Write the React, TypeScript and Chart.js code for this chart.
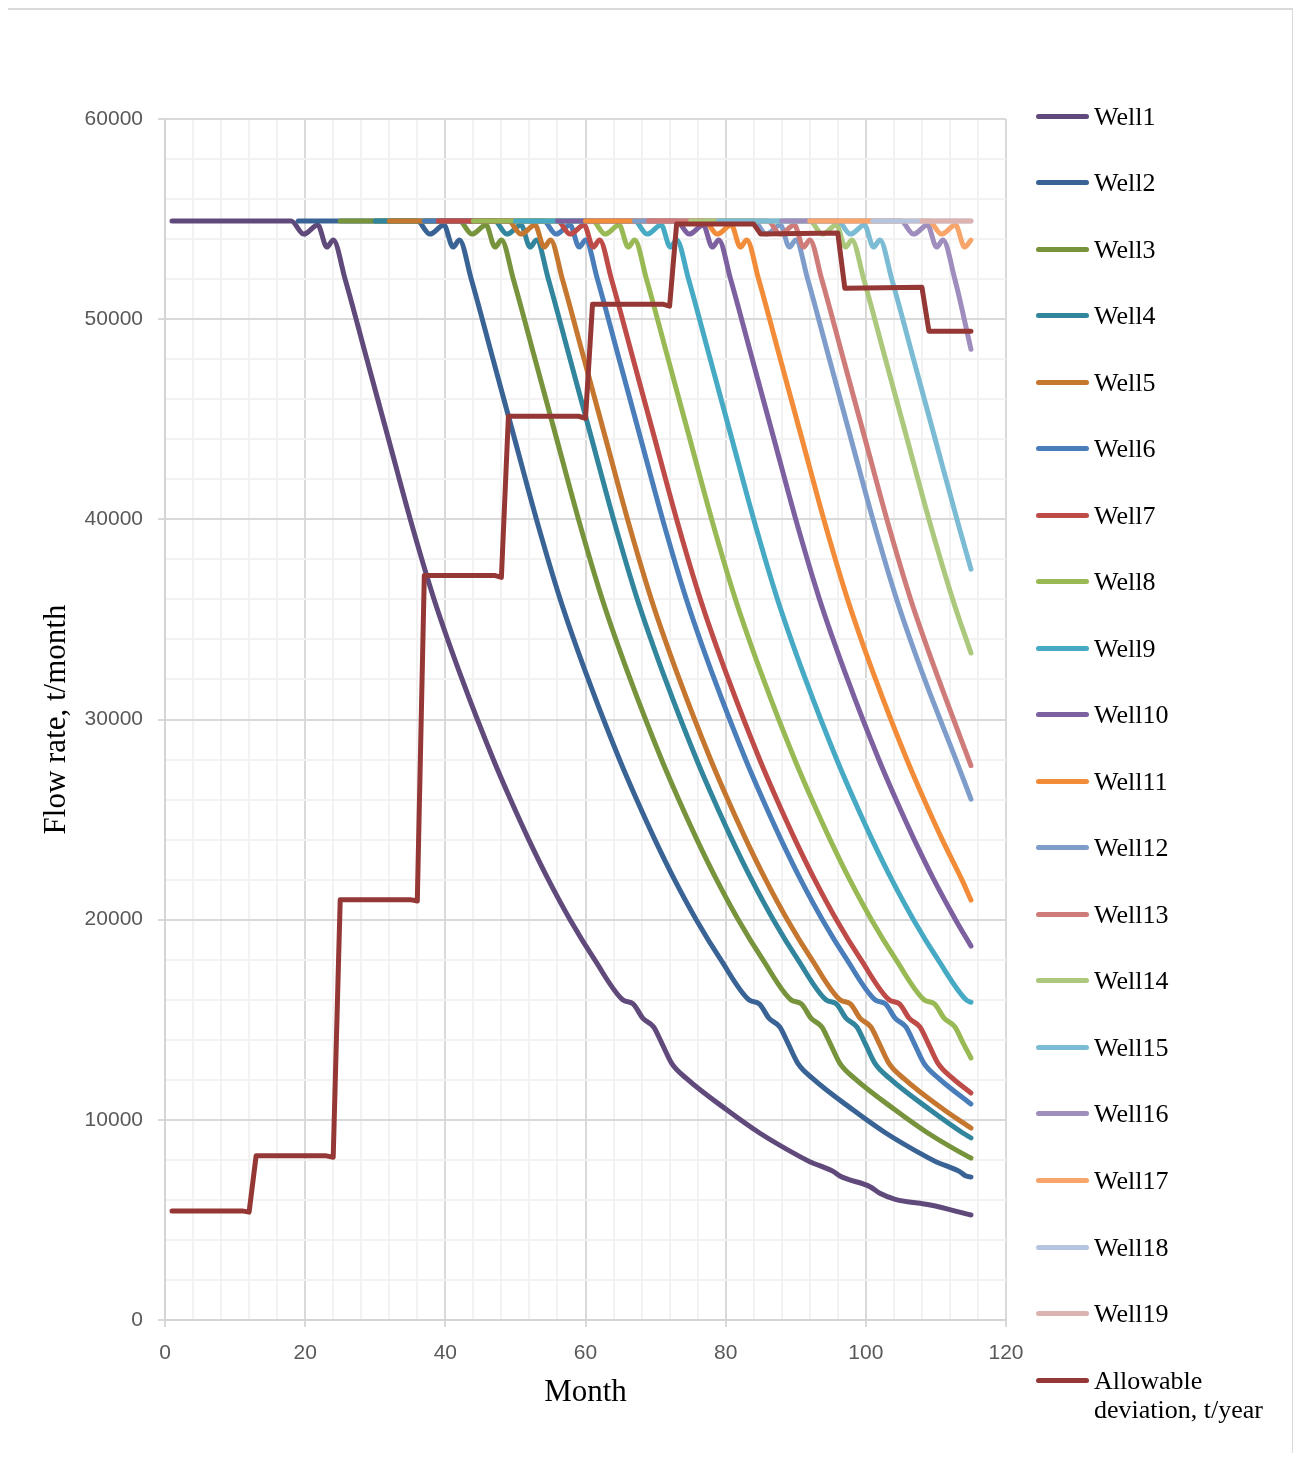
import { useEffect, useRef } from "react";
import { Chart, registerables } from "chart.js";

Chart.register(...registerables);

type Point = [number, number];

// Monthly production of each well, [month, t/month]
const well1: Point[] = [
  [1, 54900], [18, 54900], [19.8, 54250], [21.8, 54700], [23.1, 53600], [24, 53950],
  [25.7, 52000], [28.8, 48000], [31.9, 44000], [35, 40000], [38.4, 36000], [42.4, 32000],
  [46.85, 28000], [49.3, 26000], [51.9, 24000], [54.7, 22000], [57.8, 20000], [61.3, 18000],
  [65.3, 16000], [66.8, 15790], [68.2, 15070], [69.7, 14650], [70.9, 13820], [72.3, 12820],
  [74.4, 12070], [80.2, 10490], [84.9, 9330], [90.6, 8160], [92, 7910],
  [95.4, 7410], [96.3, 7190], [100.6, 6660], [102, 6330], [104.2, 6030], [109.2, 5745], [115, 5245],
];
const well2: Point[] = [
  [19, 54900], [36, 54900], [37.8, 54250], [39.8, 54700], [41.1, 53600], [42, 53950],
  [43.7, 52000], [46.8, 48000], [49.9, 44000], [53, 40000], [56.4, 36000], [60.4, 32000],
  [64.85, 28000], [67.3, 26000], [69.9, 24000], [72.7, 22000], [75.8, 20000], [79.3, 18000],
  [83.3, 16000], [84.8, 15790], [86.2, 15070], [87.7, 14650], [88.9, 13820], [90.3, 12820],
  [92.4, 12070], [98.2, 10490], [102.9, 9330], [108.6, 8160], [110, 7910],
  [113.4, 7410], [114.3, 7190], [115, 7140],
];
const well3: Point[] = [
  [25, 54900], [42, 54900], [43.8, 54250], [45.8, 54700], [47.1, 53600], [48, 53950],
  [49.7, 52000], [52.8, 48000], [55.9, 44000], [59, 40000], [62.4, 36000], [66.4, 32000],
  [70.85, 28000], [73.3, 26000], [75.9, 24000], [78.7, 22000], [81.8, 20000], [85.3, 18000],
  [89.3, 16000], [90.8, 15790], [92.2, 15070], [93.7, 14650], [94.9, 13820], [96.3, 12820],
  [98.4, 12070], [104.2, 10490], [108.9, 9330], [114.6, 8160], [115, 8090],
];
const well4: Point[] = [
  [30, 54900], [47, 54900], [48.8, 54250], [50.8, 54700], [52.1, 53600], [53, 53950],
  [54.7, 52000], [57.8, 48000], [60.9, 44000], [64, 40000], [67.4, 36000], [71.4, 32000],
  [75.85, 28000], [78.3, 26000], [80.9, 24000], [83.7, 22000], [86.8, 20000], [90.3, 18000],
  [94.3, 16000], [95.8, 15790], [97.2, 15070], [98.7, 14650], [99.9, 13820], [101.3, 12820],
  [103.4, 12070], [109.2, 10490], [113.9, 9330], [115, 9100],
];
const well5: Point[] = [
  [32, 54900], [49, 54900], [50.8, 54250], [52.8, 54700], [54.1, 53600], [55, 53950],
  [56.7, 52000], [59.8, 48000], [62.9, 44000], [66, 40000], [69.4, 36000], [73.4, 32000],
  [77.85, 28000], [80.3, 26000], [82.9, 24000], [85.7, 22000], [88.8, 20000], [92.3, 18000],
  [96.3, 16000], [97.8, 15790], [99.2, 15070], [100.7, 14650], [101.9, 13820], [103.3, 12820],
  [105.4, 12070], [111.2, 10490], [115, 9590],
];
const well6: Point[] = [
  [37, 54900], [54, 54900], [55.8, 54250], [57.8, 54700], [59.1, 53600], [60, 53950],
  [61.7, 52000], [64.8, 48000], [67.9, 44000], [71, 40000], [74.4, 36000], [78.4, 32000],
  [82.85, 28000], [85.3, 26000], [87.9, 24000], [90.7, 22000], [93.8, 20000], [97.3, 18000],
  [101.3, 16000], [102.8, 15790], [104.2, 15070], [105.7, 14650], [106.9, 13820], [108.3, 12820],
  [110.4, 12070], [115, 10790],
];
const well7: Point[] = [
  [39, 54900], [56, 54900], [57.8, 54250], [59.8, 54700], [61.1, 53600], [62, 53950],
  [63.7, 52000], [66.8, 48000], [69.9, 44000], [73, 40000], [76.4, 36000], [80.4, 32000],
  [84.85, 28000], [87.3, 26000], [89.9, 24000], [92.7, 22000], [95.8, 20000], [99.3, 18000],
  [103.3, 16000], [104.8, 15790], [106.2, 15070], [107.7, 14650], [108.9, 13820], [110.3, 12820],
  [112.4, 12070], [115, 11340],
];
const well8: Point[] = [
  [44, 54900], [61, 54900], [62.8, 54250], [64.8, 54700], [66.1, 53600], [67, 53950],
  [68.7, 52000], [71.8, 48000], [74.9, 44000], [78, 40000], [81.4, 36000], [85.4, 32000],
  [89.85, 28000], [92.3, 26000], [94.9, 24000], [97.7, 22000], [100.8, 20000], [104.3, 18000],
  [108.3, 16000], [109.8, 15790], [111.2, 15070], [112.7, 14650], [113.9, 13820], [115, 13090],
];
const well9: Point[] = [
  [50, 54900], [67, 54900], [68.8, 54250], [70.8, 54700], [72.1, 53600], [73, 53950],
  [74.7, 52000], [77.8, 48000], [80.9, 44000], [84, 40000], [87.4, 36000], [91.4, 32000],
  [95.85, 28000], [98.3, 26000], [100.9, 24000], [103.7, 22000], [106.8, 20000], [110.3, 18000],
  [114.3, 16000], [115, 15880],
];
const well10: Point[] = [
  [56, 54900], [73, 54900], [74.8, 54250], [76.8, 54700], [78.1, 53600], [79, 53950],
  [80.7, 52000], [83.8, 48000], [86.9, 44000], [90, 40000], [93.4, 36000], [97.4, 32000],
  [101.85, 28000], [104.3, 26000], [106.9, 24000], [109.7, 22000], [112.8, 20000], [115, 18680],
];
const well11: Point[] = [
  [60, 54900], [77, 54900], [78.8, 54250], [80.8, 54700], [82.1, 53600], [83, 53950],
  [84.7, 52000], [87.8, 48000], [90.9, 44000], [94, 40000], [97.4, 36000], [101.4, 32000],
  [105.85, 28000], [108.3, 26000], [110.9, 24000], [113.7, 22000], [115, 20980],
];
const well12: Point[] = [
  [67, 54900], [84, 54900], [85.8, 54250], [87.8, 54700], [89.1, 53600], [90, 53950],
  [91.7, 52000], [94.8, 48000], [97.9, 44000], [101, 40000], [104.4, 36000], [108.4, 32000],
  [112.85, 28000], [115, 26020],
];
const well13: Point[] = [
  [69, 54900], [86, 54900], [87.8, 54250], [89.8, 54700], [91.1, 53600], [92, 53950],
  [93.7, 52000], [96.8, 48000], [99.9, 44000], [103, 40000], [106.4, 36000], [110.4, 32000],
  [115, 27700],
];
const well14: Point[] = [
  [75, 54900], [92, 54900], [93.8, 54250], [95.8, 54700], [97.1, 53600], [98, 53950],
  [99.7, 52000], [102.8, 48000], [105.9, 44000], [109, 40000], [112.4, 36000], [115, 33320],
];
const well15: Point[] = [
  [79, 54900], [96, 54900], [97.8, 54250], [99.8, 54700], [101.1, 53600], [102, 53950],
  [103.7, 52000], [106.8, 48000], [109.9, 44000], [113, 40000], [115, 37510],
];
const well16: Point[] = [
  [88, 54900], [105, 54900], [106.8, 54250], [108.8, 54700], [110.1, 53600], [111, 53950],
  [112.7, 52000], [115, 48500],
];
const well17: Point[] = [
  [92, 54900], [109, 54900], [110.8, 54250], [112.8, 54700], [114.1, 53600], [115, 53950],
];
const well18: Point[] = [[101, 54900], [115, 54900]];
const well19: Point[] = [[108, 54900], [115, 54900]];

// Allowable deviation, one level per production year
const allowableDeviation: Point[] = [
  [1, 5450], [11, 5450], [12, 5390], [13, 8200], [23, 8200], [24, 8130],
  [25, 21000], [35, 21000], [36, 20930], [37, 37200], [47, 37200], [48, 37100],
  [49, 45150], [59, 45150], [60, 45050], [61, 50750], [71, 50750], [72, 50650],
  [73, 54750], [84, 54750], [85, 54250], [96, 54300], [97, 51550], [108, 51600],
  [109, 49400], [115, 49400],
];

const wellSeries: Point[][] = [
  well1, well2, well3, well4, well5, well6, well7, well8, well9, well10,
  well11, well12, well13, well14, well15, well16, well17, well18, well19,
];
const wellNames = [
  "Well1", "Well2", "Well3", "Well4", "Well5", "Well6", "Well7", "Well8", "Well9", "Well10",
  "Well11", "Well12", "Well13", "Well14", "Well15", "Well16", "Well17", "Well18", "Well19",
];
const wellColors = [
  "#604A7B", "#3A6395", "#77933C", "#31859C", "#C5762F", "#4A7EBB", "#BE4B48", "#98B954",
  "#46AAC5", "#7D60A0", "#F28C38", "#7F9DCB", "#CE7B79", "#ABC87C", "#7BBCD4", "#9E8DBD",
  "#F7A56B", "#B5C5E0", "#DDB3B2",
];
const allowableName = ["Allowable", "deviation, t/year"];
const allowableColor = "#953735";

const monthTickLabels = [0, 20, 40, 60, 80, 100, 120];
const flowTickLabels = [0, 10000, 20000, 30000, 40000, 50000, 60000];

const xTitle = "Month";
const yTitle = "Flow rate, t/month";

const CANVAS_W = 1285;
const CANVAS_H = 1451;

export default function App() {
  const canvasRef = useRef<HTMLCanvasElement | null>(null);

  useEffect(() => {
    const canvas = canvasRef.current;
    if (!canvas) return;

    const lineStyle = {
      borderWidth: 5,
      pointRadius: 0,
      pointHoverRadius: 0,
      borderCapStyle: "round" as const,
      borderJoinStyle: "round" as const,
      fill: false,
    };

    const total = wellSeries.length + 1;
    const datasets: any[] = wellSeries.map((pts, i) => ({
      label: wellNames[i],
      data: pts.map(([x, y]) => ({ x, y })),
      borderColor: wellColors[i],
      backgroundColor: wellColors[i],
      cubicInterpolationMode: "monotone",
      order: total - i,
      ...lineStyle,
    }));
    datasets.push({
      label: allowableName.join(" "),
      data: allowableDeviation.map(([x, y]) => ({ x, y })),
      borderColor: allowableColor,
      backgroundColor: allowableColor,
      tension: 0,
      order: 0,
      ...lineStyle,
    });

    const tickFont = { family: "'Liberation Sans', Arial, sans-serif", size: 21 };
    const titleFont = { family: "'Liberation Serif', 'Times New Roman', serif", size: 31 };

    const chart = new Chart(canvas, {
      type: "line",
      data: { datasets },
      options: {
        responsive: false,
        animation: false,
        devicePixelRatio: 1,
        layout: { padding: { left: 0, right: 287, top: 109, bottom: 0 } },
        plugins: {
          legend: { display: false },
          tooltip: { enabled: false },
        },
        scales: {
          x: {
            type: "linear",
            min: 0,
            max: 120,
            afterFit: (scale: any) => {
              scale.height = 141;
            },
            ticks: {
              stepSize: 4,
              autoSkip: false,
              maxRotation: 0,
              padding: 14,
              color: "#595959",
              font: tickFont,
              callback: (v: any) => (monthTickLabels.includes(Number(v)) ? String(v) : ""),
            },
            grid: {
              lineWidth: 2,
              tickLength: 7,
              color: (ctx: any) =>
                monthTickLabels.includes(ctx.tick?.value) ? "#d9d9d9" : "#f2f2f2",
              tickColor: (ctx: any) =>
                monthTickLabels.includes(ctx.tick?.value) ? "#d9d9d9" : "rgba(0,0,0,0)",
            },
            border: { color: "#d4d4d4", width: 2 },
            title: {
              display: true,
              text: xTitle,
              color: "#000000",
              font: titleFont,
              padding: { top: 0, bottom: 49.4 },
            },
          },
          y: {
            type: "linear",
            min: 0,
            max: 60000,
            afterFit: (scale: any) => {
              scale.width = 157;
            },
            ticks: {
              stepSize: 2000,
              autoSkip: false,
              padding: 15,
              color: "#595959",
              font: tickFont,
              callback: (v: any) => (flowTickLabels.includes(Number(v)) ? String(v) : ""),
            },
            grid: {
              lineWidth: 2,
              tickLength: 7,
              color: (ctx: any) =>
                flowTickLabels.includes(ctx.tick?.value) ? "#d9d9d9" : "#f2f2f2",
              tickColor: (ctx: any) =>
                flowTickLabels.includes(ctx.tick?.value) ? "#d9d9d9" : "rgba(0,0,0,0)",
            },
            border: { color: "#d4d4d4", width: 2 },
            title: {
              display: true,
              text: yTitle,
              color: "#000000",
              font: titleFont,
              padding: { top: 30, bottom: 0 },
            },
          },
        },
      },
    });

    return () => chart.destroy();
  }, []);

  const legendItems = [
    ...wellNames.map((name, i) => ({ lines: [name], color: wellColors[i] })),
    { lines: allowableName, color: allowableColor },
  ];

  return (
    <div
      style={{
        position: "relative",
        width: 1288,
        height: 1455,
        marginLeft: -2,
        marginBottom: -10,
        boxSizing: "border-box",
        border: "2px solid #d9d9d9",
        background: "#ffffff",
      }}
    >
      <canvas
        ref={canvasRef}
        width={CANVAS_W}
        height={CANVAS_H}
        style={{ position: "absolute", left: 0, top: 0, width: CANVAS_W, height: CANVAS_H }}
      />
      {legendItems.map((item, i) => (
        <div
          key={i}
          style={{
            position: "absolute",
            left: 1028,
            top: 106 + i * 66.53 - 14.5,
            display: "flex",
            alignItems: "flex-start",
            fontFamily: "'Liberation Serif', 'Times New Roman', serif",
            fontSize: 26,
            lineHeight: "29px",
            color: "#000000",
            whiteSpace: "nowrap",
          }}
        >
          <div
            style={{
              width: 53,
              height: 5,
              marginTop: 12,
              marginRight: 5,
              borderRadius: 2.5,
              background: item.color,
              flex: "none",
            }}
          />
          <div>
            {item.lines.map((ln, j) => (
              <div key={j}>{ln}</div>
            ))}
          </div>
        </div>
      ))}
    </div>
  );
}
